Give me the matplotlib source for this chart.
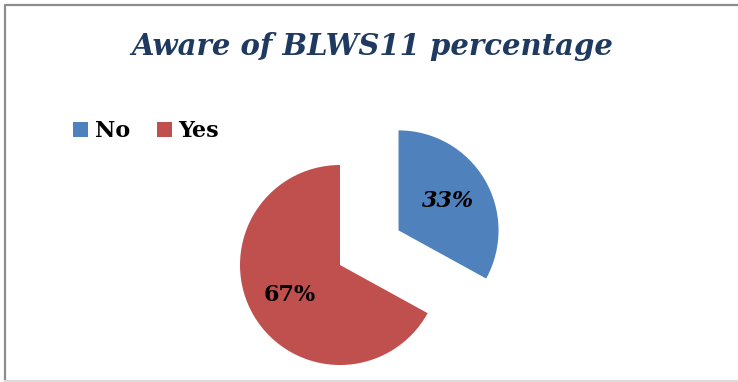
import matplotlib.pyplot as plt
from matplotlib.lines import Line2D

# data
labels = ['No', 'Yes']
values = [33, 67]
colors = ['#4F81BD', '#C0504D']

fig = plt.figure(figsize=(7.38, 3.82), dpi=100)
ax = fig.add_axes([0, 0, 1, 1])

# chart frame: darker top/left, faint bottom
W, H = 738, 382
frame = dict(transform=fig.transFigure, lw=1.6)
fig.lines.append(Line2D([5 / W, 5 / W, 1], [1 / H, 1 - 5 / H, 1 - 5 / H], color='#8c8c8c', **frame))
fig.lines.append(Line2D([5 / W, 1], [1 / H, 1 / H], color='#dcdcdc', **frame))

wedges, texts, autotexts = ax.pie(values, colors=colors, startangle=90, counterclock=False,
                                  explode=[0.68, 0], radius=1, autopct='%d%%', pctdistance=0.58,
                                  wedgeprops=dict(linewidth=0))
ax.set_aspect('auto')
ax.set_xlim(-3.4, 3.98)
ax.set_ylim(-1.17, 2.65)
ax.axis('off')

for t, italic in zip(autotexts, ['italic', 'normal']):
    t.set_fontfamily('DejaVu Serif')
    t.set_fontweight('bold')
    t.set_fontstyle(italic)
    t.set_fontsize(16)
    t.set_color('black')

fig.text(0.504, 0.877, 'Aware of BLWS11 percentage', ha='center', va='center',
         fontsize=21, fontweight='bold', fontstyle='italic', family='DejaVu Serif', color='#1F3A60')

fig.legend(wedges, labels, loc='center left', bbox_to_anchor=(0.072, 0.657), ncol=2, frameon=False,
           prop=dict(family='DejaVu Serif', weight='bold', size=16),
           handlelength=0.68, handleheight=0.68, handletextpad=0.3, columnspacing=1.2)

plt.savefig('out.png', dpi=100)
plt.close()
